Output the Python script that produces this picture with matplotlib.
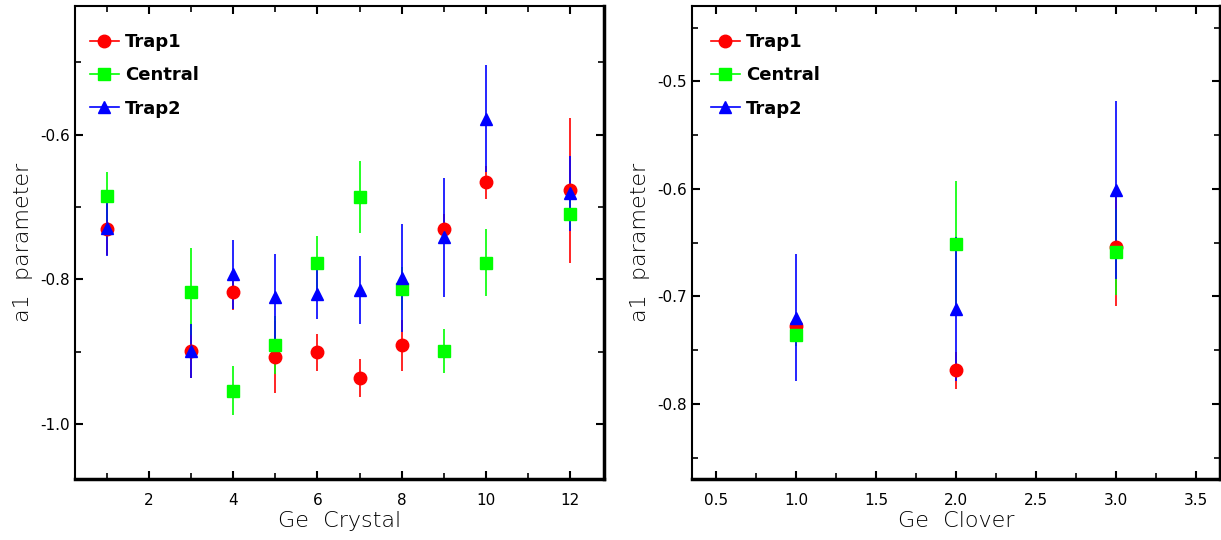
import matplotlib
matplotlib.use('Agg')
import matplotlib.pyplot as plt
from matplotlib.lines import Line2D
from matplotlib.ticker import MultipleLocator

# left panel: per crystal
crystal = [1, 3, 4, 5, 6, 7, 8, 9, 10, 12]
trap1_c = [-0.731, -0.899, -0.817, -0.907, -0.901, -0.936, -0.891, -0.730, -0.666, -0.677]
trap1_c_err = [0.035, 0.037, 0.025, 0.050, 0.025, 0.026, 0.035, 0.020, 0.023, 0.100]
central_c = [-0.685, -0.817, -0.954, -0.891, -0.777, -0.686, -0.813, -0.899, -0.777, -0.709]
central_c_err = [0.034, 0.060, 0.034, 0.040, 0.037, 0.050, 0.030, 0.031, 0.046, 0.020]
trap2_c = [-0.729, -0.899, -0.793, -0.825, -0.820, -0.814, -0.798, -0.742, -0.578, -0.681]
trap2_c_err = [0.039, 0.037, 0.048, 0.060, 0.035, 0.047, 0.075, 0.082, 0.074, 0.052]

# right panel: per clover
clover = [1.0, 2.0, 3.0]
trap1_k = [-0.728, -0.769, -0.654]
trap1_k_err = [0.010, 0.017, 0.055]
central_k = [-0.736, -0.651, -0.659]
central_k_err = [0.010, 0.058, 0.040]
trap2_k = [-0.720, -0.712, -0.601]
trap2_k_err = [0.059, 0.067, 0.083]

names = ['Trap1', 'Central', 'Trap2']
colors = ['#ff0000', '#00ff00', '#0000ff']
markers = ['o', 's', '^']

fig = plt.figure(figsize=(12.21, 5.40), dpi=100)
ax1 = fig.add_axes([75 / 1221, 61 / 540, 529 / 1221, 473 / 540])
ax2 = fig.add_axes([692 / 1221, 61 / 540, 528 / 1221, 473 / 540])


def draw(ax, x, series):
    for (y, e), c, m in zip(series, colors, markers):
        ax.errorbar(x, y, yerr=e, fmt=m, color=c, ms=9, mec=c,
                    ecolor=c, elinewidth=1.2, capsize=0)


def style(ax, xlabel, leg_x):
    ax.tick_params(which='both', direction='in', top=True, right=True,
                   labelsize=11, colors='black')
    ax.tick_params(which='major', length=6, width=1.5)
    ax.tick_params(which='minor', length=4, width=1.2)
    ax.tick_params(axis='x', pad=10)
    for side in ['left', 'top']:
        ax.spines[side].set_linewidth(1.5)
    for side in ['right', 'bottom']:
        ax.spines[side].set_linewidth(2.5)
    ax.set_xlabel(xlabel, fontsize=16, fontweight='light', labelpad=2)
    ax.set_ylabel('a1  parameter', fontsize=16, fontweight='light', labelpad=5)
    handles = [Line2D([0], [0], color=c, marker=m, ms=9, lw=1.2)
               for c, m in zip(colors, markers)]
    ax.legend(handles, names, loc='upper left', bbox_to_anchor=(leg_x, 0.943),
              frameon=False, handlelength=1.6, handletextpad=0.35,
              labelspacing=0.85, borderaxespad=0, borderpad=0,
              prop={'weight': 'bold', 'size': 13})


draw(ax1, crystal, [(trap1_c, trap1_c_err), (central_c, central_c_err), (trap2_c, trap2_c_err)])
ax1.set_xlim(0.25, 12.8)
ax1.set_ylim(-1.076, -0.422)
ax1.xaxis.set_major_locator(MultipleLocator(2))
ax1.xaxis.set_minor_locator(MultipleLocator(1))
ax1.yaxis.set_major_locator(MultipleLocator(0.2))
ax1.yaxis.set_minor_locator(MultipleLocator(0.1))
ax1.yaxis.set_major_formatter(plt.FuncFormatter(lambda v, p: '%.1f' % v))
style(ax1, 'Ge  Crystal', 0.028)

draw(ax2, clover, [(trap1_k, trap1_k_err), (central_k, central_k_err), (trap2_k, trap2_k_err)])
ax2.set_xlim(0.35, 3.65)
ax2.set_ylim(-0.870, -0.430)
ax2.xaxis.set_major_locator(MultipleLocator(0.5))
ax2.xaxis.set_minor_locator(MultipleLocator(0.25))
ax2.yaxis.set_major_locator(MultipleLocator(0.1))
ax2.yaxis.set_minor_locator(MultipleLocator(0.05))
ax2.yaxis.set_major_formatter(plt.FuncFormatter(lambda v, p: '%.1f' % v))
style(ax2, 'Ge  Clover', 0.036)

fig.savefig('out.png', dpi=100)
